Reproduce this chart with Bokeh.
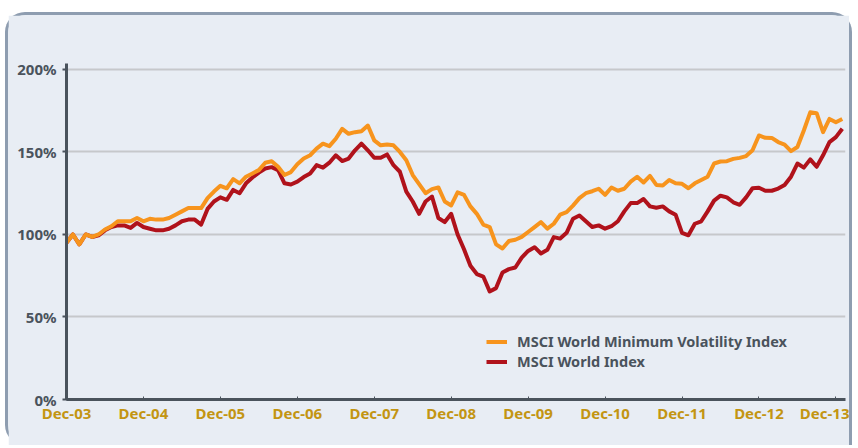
from bokeh.plotting import figure
from bokeh.models import Range1d, Legend, LegendItem, FixedTicker
from bokeh.embed import file_html
from bokeh.resources import INLINE

tick_labels = ["Dec-03", "Dec-04", "Dec-05", "Dec-06", "Dec-07", "Dec-08",
               "Dec-09", "Dec-10", "Dec-11", "Dec-12", "Dec-13"]
y_ticks = [0, 50, 100, 150, 200]
y_tick_labels = ["0%", "50%", "100%", "150%", "200%"]

series_names = ["MSCI World Minimum Volatility Index", "MSCI World Index"]

min_vol = [
    95, 100, 94, 100, 98.5, 100, 103, 105, 108, 108, 108, 110,
    108, 109.5, 109, 109, 110, 112, 114, 116, 116, 116, 122, 126,
    129.5, 128, 133.5, 131, 135, 137, 139, 143.5, 144.4, 141, 136, 137.8,
    142.5, 146, 148, 152, 155, 153.5, 158, 164, 161, 162, 162.6, 166,
    157, 154, 154.5, 154, 150, 145, 136, 130.5, 125, 127.5, 128.5, 120,
    117.6, 125.5, 124, 117, 112.5, 106, 104.5, 94, 91.5, 96, 96.8, 98.5,
    101.5, 104.5, 107.5, 103.5, 106.5, 112, 113.5, 117.5, 122, 125, 126.2, 127.7,
    124, 128.5, 126.5, 127.7, 132, 135, 131.5, 135.5, 130, 129.7, 133, 131,
    130.7, 128, 131, 133, 135, 143, 144.2, 144.4, 145.8, 146.4, 147.5, 151,
    160, 158.6, 158.5, 156, 154.5, 150.5, 153, 163, 174, 173.5, 162, 170,
    168, 170,
]

world = [
    95, 100, 94, 100, 98.5, 99.5, 102.5, 104.5, 105.5, 105.5, 104, 107,
    104.5, 103.5, 102.5, 102.5, 103.5, 105.5, 108, 109, 109, 106, 115.5, 120,
    122.5, 121, 127, 125, 131, 134.5, 137.5, 140, 140.8, 139, 131, 130.3,
    132, 134.8, 137, 142, 140.5, 143.5, 148, 144.5, 146, 151, 155, 151,
    146.5, 146.5, 148.5, 142, 138, 126, 120, 112.5, 120, 123, 110, 107.5,
    112.5, 100, 91, 81, 76, 74.5, 65.5, 67.5, 77, 79, 80, 86,
    90, 92.3, 88.5, 90.7, 98.4, 97.5, 101, 109.5, 111.5, 108, 104.5, 105.5,
    103.5, 105, 108, 114, 119, 119, 121.5, 117, 116.2, 117, 114, 112,
    101, 99.5, 106.5, 108, 114, 120.5, 123.5, 122.5, 119.5, 118, 122.5, 128,
    128.3, 126.5, 126.5, 127.8, 130, 135, 143, 140.5, 145.5, 141, 148, 156,
    159, 164,
]

months = list(range(len(min_vol)))

PANEL = "#e8edf4"
AXIS = "#4a535c"
GOLD = "#c39512"
ORANGE = "#f7941d"
RED = "#b0121b"
FONT = "Noto Sans"

p = figure(width=847, height=433, output_backend="svg", toolbar_location=None,
           x_range=Range1d(0, 121.5), y_range=Range1d(0, 203.6),
           min_border_left=58, min_border_right=10, min_border_top=48,
           min_border_bottom=49)
p.styles = {"border-top": "3px solid #8e9db0", "border-left": "3px solid #8e9db0",
            "border-right": "3px solid #8e9db0",
            "border-radius": "20px 20px 0 20px",
            "background-color": PANEL,
            "margin-top": "12px", "margin-left": "5px"}
p.background_fill_color = PANEL
p.border_fill_color = PANEL
p.outline_line_color = None

# grid
p.xgrid.visible = False
p.ygrid.ticker = FixedTicker(ticks=y_ticks)
p.ygrid.grid_line_color = "#c6c8cb"
p.ygrid.grid_line_width = 2

# y axis
p.yaxis.ticker = FixedTicker(ticks=y_ticks)
p.yaxis.major_label_overrides = {t: l for t, l in zip(y_ticks, y_tick_labels)}
p.yaxis.axis_line_color = AXIS
p.yaxis.axis_line_width = 3
p.yaxis.major_tick_line_color = AXIS
p.yaxis.major_tick_line_width = 2
p.yaxis.major_tick_out = 4
p.yaxis.major_tick_in = 0
p.yaxis.minor_tick_line_color = None
p.yaxis.major_label_standoff = 6
p.yaxis.major_label_text_font = FONT
p.yaxis.major_label_text_font_style = "bold"
p.yaxis.major_label_text_font_size = "15px"
p.yaxis.major_label_text_color = AXIS

# x axis
x_ticks = [12 * i for i in range(len(tick_labels))]
p.xaxis.ticker = FixedTicker(ticks=x_ticks)
p.xaxis.major_label_overrides = {t: l for t, l in zip(x_ticks, tick_labels)}
p.xaxis.axis_line_color = AXIS
p.xaxis.axis_line_width = 3
p.xaxis.major_tick_line_color = AXIS
p.xaxis.major_tick_line_width = 1
p.xaxis.major_tick_in = 3
p.xaxis.major_tick_out = 1
p.xaxis.minor_tick_line_color = None
p.xaxis.major_label_standoff = 2
p.xaxis.major_label_text_font = FONT
p.xaxis.major_label_text_font_style = "bold"
p.xaxis.major_label_text_font_size = "15px"
p.xaxis.major_label_text_color = GOLD

r_red = p.line(months, world, line_color=RED, line_width=4, line_join="round")
r_orange = p.line(months, min_vol, line_color=ORANGE, line_width=4, line_join="round")

legend = Legend(items=[LegendItem(label=series_names[0], renderers=[r_orange]),
                       LegendItem(label=series_names[1], renderers=[r_red])],
                location=(420, 28), orientation="vertical",
                padding=0, margin=0, spacing=-3,
                glyph_width=21, glyph_height=17, label_height=17,
                label_standoff=10,
                label_text_font=FONT, label_text_font_style="bold",
                label_text_font_size="14.5px", label_text_color=AXIS,
                background_fill_alpha=0, border_line_alpha=0)
p.add_layout(legend, "center")

open("out.html", "w").write(file_html(p, INLINE))
